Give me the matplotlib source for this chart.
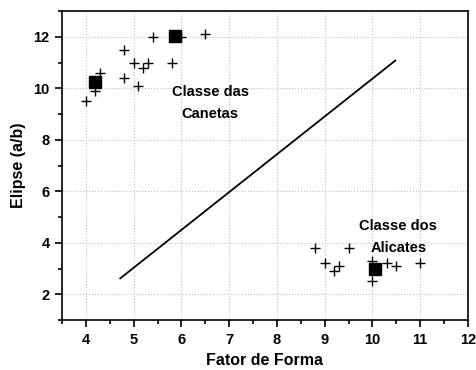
import matplotlib
matplotlib.use("Agg")
import matplotlib.pyplot as plt
import numpy as np

plt.rcParams['font.family'] = ['Liberation Sans', 'DejaVu Sans']
plt.rcParams['font.weight'] = 'bold'

# Classe das Canetas
can_x = [4.0, 4.3, 4.2, 4.8, 4.8, 5.0, 5.1, 5.2, 5.3, 5.4, 5.8, 6.0, 6.5]
can_y = [9.5, 10.6, 9.9, 11.5, 10.4, 11.0, 10.1, 10.8, 11.0, 12.0, 11.0, 12.0, 12.1]
# Classe dos Alicates
ali_x = [8.8, 9.5, 9.0, 9.2, 9.3, 10.0, 10.0, 10.3, 10.5, 11.0]
ali_y = [3.8, 3.8, 3.2, 2.9, 3.1, 3.3, 2.5, 3.2, 3.1, 3.2]
# centroids
cen_x = [4.2, 5.87, 10.05]
cen_y = [10.25, 12.05, 3.0]
# separating line
sep_x = [4.72, 10.48]
sep_y = [2.62, 11.08]

fig = plt.figure(figsize=(4.77, 3.70), dpi=100)
ax = fig.add_axes([0.130, 0.135, 0.851, 0.835])

ax.plot(can_x, can_y, '+', color='black', markersize=7, markeredgewidth=1.0)
ax.plot(ali_x, ali_y, '+', color='black', markersize=7, markeredgewidth=1.0)
ax.plot(cen_x, cen_y, 's', color='black', markersize=9)
ax.plot(sep_x, sep_y, '-', color='black', linewidth=1.3)

ax.text(6.6, 9.85, 'Classe das', ha='center', va='center', fontsize=10.5, fontweight='bold')
ax.text(6.6, 9.0, 'Canetas', ha='center', va='center', fontsize=10.5, fontweight='bold')
ax.text(10.54, 4.65, 'Classe dos', ha='center', va='center', fontsize=10.5, fontweight='bold')
ax.text(10.54, 3.8, 'Alicates', ha='center', va='center', fontsize=10.5, fontweight='bold')

ax.set_xlim(3.5, 12)
ax.set_ylim(1, 13)
ax.set_xticks(np.arange(4, 13, 1))
ax.set_xticks(np.arange(3.5, 12.01, 0.5), minor=True)
ax.set_yticks(np.arange(2, 13, 2))
ax.set_yticks(np.arange(1, 13.01, 1), minor=True)
ax.grid(True, which='major', linestyle=':', color='#c0c0c0', linewidth=0.8)

ax.tick_params(which='both', direction='out', width=1.2, labelsize=10.5)
ax.tick_params(which='major', length=5, pad=4)
ax.tick_params(which='minor', length=3)
for s in ax.spines.values():
    s.set_linewidth(1.2)

ax.set_xlabel('Fator de Forma', fontsize=11.5, fontweight='bold', labelpad=5)
ax.set_ylabel('Elipse (a/b)', fontsize=11.5, fontweight='bold', labelpad=5)

plt.savefig('out.png', dpi=100)
